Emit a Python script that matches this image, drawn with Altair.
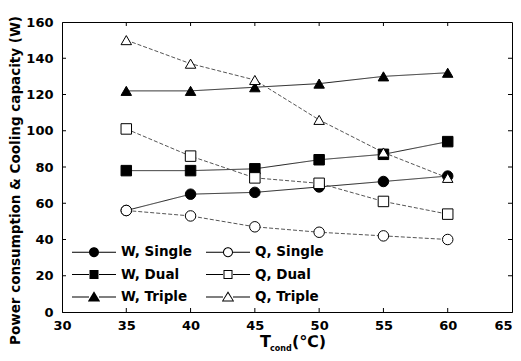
import altair as alt
import pandas as pd

# ---- data ----
temps = [35, 40, 45, 50, 55, 60]
w_single = [56, 65, 66, 69, 72, 75]
q_single = [56, 53, 47, 44, 42, 40]
w_dual = [78, 78, 79, 84, 87, 94]
q_dual = [101, 86, 74, 71, 61, 54]
w_triple = [122, 122, 124, 126, 130, 132]
q_triple = [150, 137, 128, 106, 88, 74]

series_names = ["W, Single", "W, Dual", "W, Triple", "Q, Single", "Q, Dual", "Q, Triple"]
series_kind = ["W", "W", "W", "Q", "Q", "Q"]
series_values = [w_single, w_dual, w_triple, q_single, q_dual, q_triple]

x_labels = [30, 35, 40, 45, 50, 55, 60, 65]
y_labels = [0, 20, 40, 60, 80, 100, 120, 140, 160]
x_inner_ticks = [35, 40, 45, 50, 55, 60]
y_inner_ticks = [20, 40, 60, 80, 100, 120, 140]

# ---- styling ----
W, H = 450, 290
FONT = "DejaVu Sans"
plain_shapes = ["circle", "square", "triangle-up", "circle", "square", "triangle-up"]
fills = ["black", "black", "black", "white", "white", "white"]

# legend symbols: line segment + marker, drawn with fill only (hollow = ring)
seg = "M-2.2,-0.06H-0.5V0.06H-2.2ZM0.5,-0.06H2.2V0.06H0.5Z"
circ_o = "M-0.5,0A0.5,0.5,0,1,1,0.5,0A0.5,0.5,0,1,1,-0.5,0Z"
circ_i = "M-0.4,0A0.4,0.4,0,1,0,0.4,0A0.4,0.4,0,1,0,-0.4,0Z"
sq_o = "M-0.45,-0.45H0.45V0.45H-0.45Z"
sq_i = "M-0.35,-0.35V0.35H0.35V-0.35Z"
tri_o = "M0,-0.58L0.62,0.45L-0.62,0.45Z"
tri_i = "M0,-0.37L-0.46,0.35L0.46,0.35Z"
legend_shapes = [
    seg + circ_o, seg + sq_o, seg + tri_o,
    seg + circ_o + circ_i, seg + sq_o + sq_i, seg + tri_o + tri_i,
]

rows = []
for name, kind, vals in zip(series_names, series_kind, series_values):
    for t, v in zip(temps, vals):
        rows.append({"series": name, "pseries": name, "kind": kind, "T": t, "value": v})
df = pd.DataFrame(rows)

x_enc = alt.X(
    "T:Q",
    scale=alt.Scale(domain=[30, 65], nice=False, zero=False),
    axis=alt.Axis(values=x_labels, ticks=False, title=None, grid=False,
                  labelFont=FONT, labelFontSize=13, labelFontWeight="bold",
                  labelColor="black", labelPadding=7, domainColor="black",
                  labelAlign=alt.expr("datum.value >= 65 ? 'right' : 'center'"),
                  labelFlush=False, labelOverlap=False, format="d"),
)
y_enc = alt.Y(
    "value:Q",
    scale=alt.Scale(domain=[0, 160], nice=False),
    axis=alt.Axis(values=y_labels, ticks=False, grid=False,
                  title="Power consumption & Cooling capacity (W)",
                  titleFont=FONT, titleFontSize=13.5, titleFontWeight="bold",
                  titleColor="black", titlePadding=3, titleY=158,
                  labelFont=FONT, labelFontSize=13, labelFontWeight="bold",
                  labelColor="black", labelPadding=9, domainColor="black",
                  labelFlush=False, labelOverlap=False, format="d"),
)

base = alt.Chart(df)

lines = base.mark_line(strokeWidth=1).encode(
    x=x_enc, y=y_enc, detail="series:N",
    stroke=alt.Stroke("kind:N", scale=alt.Scale(domain=["W", "Q"], range=["#222222", "#555555"]), legend=None),
    strokeDash=alt.StrokeDash("kind:N", scale=alt.Scale(domain=["W", "Q"], range=[[1, 0], [4, 2]]), legend=None),
)

points = base.mark_point(size=110, strokeWidth=1, opacity=1, fillOpacity=1, filled=True).encode(
    x=x_enc, y=y_enc,
    shape=alt.Shape("pseries:N", scale=alt.Scale(domain=series_names, range=plain_shapes), legend=None),
    fill=alt.Fill("pseries:N", scale=alt.Scale(domain=series_names, range=fills), legend=None),
    stroke=alt.value("black"),
)

leg = alt.Legend(
    title=None, orient="none", legendX=22, legendY=220, columns=2,
    symbolSize=400, symbolStrokeWidth=0, symbolFillColor="black", symbolOpacity=1,
    labelFont=FONT, labelFontSize=13.5, labelFontWeight="bold", labelColor="black",
    labelOffset=17, columnPadding=13, rowPadding=5.5, padding=0,
)
legend_layer = base.mark_point(size=400, strokeWidth=0, opacity=0, filled=True, color="black").encode(
    x=x_enc, y=y_enc,
    shape=alt.Shape("series:N", scale=alt.Scale(domain=series_names, range=legend_shapes), legend=leg),
)

xt = pd.DataFrame({"T": x_inner_ticks})
yt = pd.DataFrame({"value": y_inner_ticks})
bottom_ticks = alt.Chart(xt).mark_rule(color="black", strokeWidth=1).encode(
    x=x_enc, y=alt.value(H), y2=alt.value(H - 4))
top_ticks = alt.Chart(xt).mark_rule(color="black", strokeWidth=1).encode(
    x=x_enc, y=alt.value(0), y2=alt.value(4))
left_ticks = alt.Chart(yt).mark_rule(color="black", strokeWidth=1).encode(
    y=y_enc, x=alt.value(0), x2=alt.value(4))
right_ticks = alt.Chart(yt).mark_rule(color="black", strokeWidth=1).encode(
    y=y_enc, x=alt.value(W), x2=alt.value(W - 4))

one = pd.DataFrame({"a": [0]})
t_main = alt.Chart(one).mark_text(text="T", font=FONT, fontSize=16, fontWeight="bold",
                                  align="left", baseline="alphabetic", color="black").encode(
    x=alt.value(198), y=alt.value(325))
t_sub = alt.Chart(one).mark_text(text="cond", font=FONT, fontSize=8, fontWeight="bold",
                                 align="left", baseline="alphabetic", color="black").encode(
    x=alt.value(208), y=alt.value(329))
t_unit = alt.Chart(one).mark_text(text="(℃)", font=FONT, fontSize=16, fontWeight="bold",
                                  align="left", baseline="alphabetic", color="black").encode(
    x=alt.value(230), y=alt.value(325))

chart = alt.layer(
    lines, legend_layer, points,
    bottom_ticks, top_ticks, left_ticks, right_ticks,
    t_main, t_sub, t_unit,
).resolve_scale(shape="independent", fill="independent").properties(
    width=W, height=H,
    autosize=alt.AutoSizeParams(type="none"),
    padding={"left": 54, "top": 14, "right": 1, "bottom": 41},
    background="white",
).configure_view(stroke="black", strokeWidth=1)

chart.save("out.html", embed_options={"renderer": "svg", "actions": False})
